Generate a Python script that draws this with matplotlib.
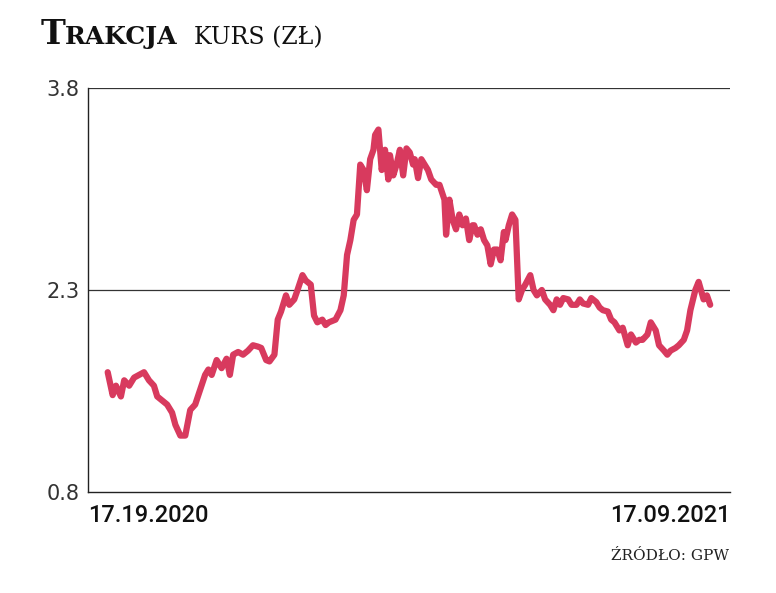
import matplotlib
matplotlib.use("Agg")
import matplotlib.pyplot as plt

days = [0,3,5,8,10,13,16,19,22,25,28,30,33,36,39,41,44,47,50,53,56,59,61,63,66,69,72,74,76,79,82,85,88,91,93,96,98,101,103,105,
108,110,113,115,118,120,123,125,127,130,132,134,138,141,143,145,147,149,151,153,155,157,159,161,162,164,166,168,170,171,
173,175,177,179,181,183,185,186,188,190,192,194,196,199,201,204,205,207,209,211,213,215,217,219,221,222,224,226,228,230,
232,234,236,238,240,241,243,245,247,249,251,253,256,258,260,263,265,268,270,272,274,276,279,281,284,286,288,291,293,296,
298,300,303,305,307,310,312,315,317,320,322,324,327,329,332,334,337,339,341,344,346,349,351,353,356,358,361,363,365]
prices = [1.69,1.52,1.59,1.51,1.63,1.59,1.65,1.67,1.69,1.63,1.59,1.51,1.48,1.45,1.39,1.30,1.22,1.22,1.41,1.45,
1.56,1.67,1.71,1.67,1.78,1.72,1.79,1.67,1.82,1.84,1.82,1.85,1.89,1.88,1.87,1.78,1.77,1.82,2.08,2.14,
2.26,2.19,2.23,2.30,2.41,2.37,2.34,2.11,2.06,2.08,2.04,2.06,2.08,2.15,2.26,2.56,2.67,2.82,2.86,3.23,
3.19,3.04,3.27,3.34,3.45,3.49,3.19,3.34,3.12,3.30,3.15,3.23,3.34,3.15,3.35,3.32,3.23,3.27,3.13,3.27,
3.23,3.19,3.12,3.08,3.08,2.97,2.71,2.97,2.82,2.75,2.86,2.78,2.83,2.67,2.78,2.78,2.71,2.75,2.67,2.63,
2.49,2.60,2.60,2.52,2.73,2.67,2.78,2.86,2.82,2.23,2.30,2.34,2.41,2.30,2.26,2.30,2.23,2.19,2.15,2.23,
2.19,2.24,2.23,2.19,2.19,2.23,2.20,2.19,2.24,2.21,2.17,2.15,2.14,2.08,2.06,2.00,2.02,1.89,1.97,1.91,
1.93,1.93,1.97,2.06,2.00,1.89,1.85,1.82,1.85,1.87,1.89,1.93,2.00,2.15,2.30,2.36,2.23,2.26,2.19,2.43]
yticks = [0.8, 2.3, 3.8]
xlabels = ["17.19.2020", "17.09.2021"]

m = min(len(days), len(prices))
days, prices = days[:m], prices[:m]

fig = plt.figure(figsize=(7.76, 5.93), dpi=100)
ax = fig.add_axes([0.113, 0.170, 0.828, 0.682])
pad = 365 * 20 / 602
ax.plot(days, prices, color="#d83a5e", lw=4.5, solid_joinstyle="round", solid_capstyle="round", zorder=3)
ax.set_xlim(-pad, 365 + pad)
ax.set_ylim(0.8, 3.8)
for v in [2.3, 3.8]:
    ax.axhline(v, color="#333333", lw=0.9, zorder=1)
ax.set_yticks(yticks)
ax.set_yticklabels([str(v) for v in yticks], fontsize=15, color="#333333")
ax.tick_params(axis="y", length=0, pad=6)
ax.set_xticks([])
for s in ["top", "right"]:
    ax.spines[s].set_visible(False)
for s in ["left", "bottom"]:
    ax.spines[s].set_color("#222222")
    ax.spines[s].set_linewidth(1.0)
ax.text(0.0, -0.03, xlabels[0], transform=ax.transAxes, ha="left", va="top",
        fontsize=17, fontfamily="Roboto", fontweight="medium", color="#111111")
ax.text(1.0, -0.03, xlabels[1], transform=ax.transAxes, ha="right", va="top",
        fontsize=17, fontfamily="Roboto", fontweight="medium", color="#111111")
fig.text(0.052, 0.925, "T", fontsize=24, fontfamily="DejaVu Serif", fontweight="bold", color="#111111")
fig.text(0.083, 0.925, "RAKCJA", fontsize=18, fontfamily="DejaVu Serif", fontweight="bold", color="#111111")
fig.text(0.250, 0.925, "KURS (ZŁ)", fontsize=17, fontfamily="DejaVu Serif", color="#111111")
fig.text(0.94, 0.055, "ŹRÓDŁO: GPW", fontsize=11, fontfamily="DejaVu Serif", ha="right", color="#222222")
fig.savefig("out.png", dpi=100, facecolor="white")
